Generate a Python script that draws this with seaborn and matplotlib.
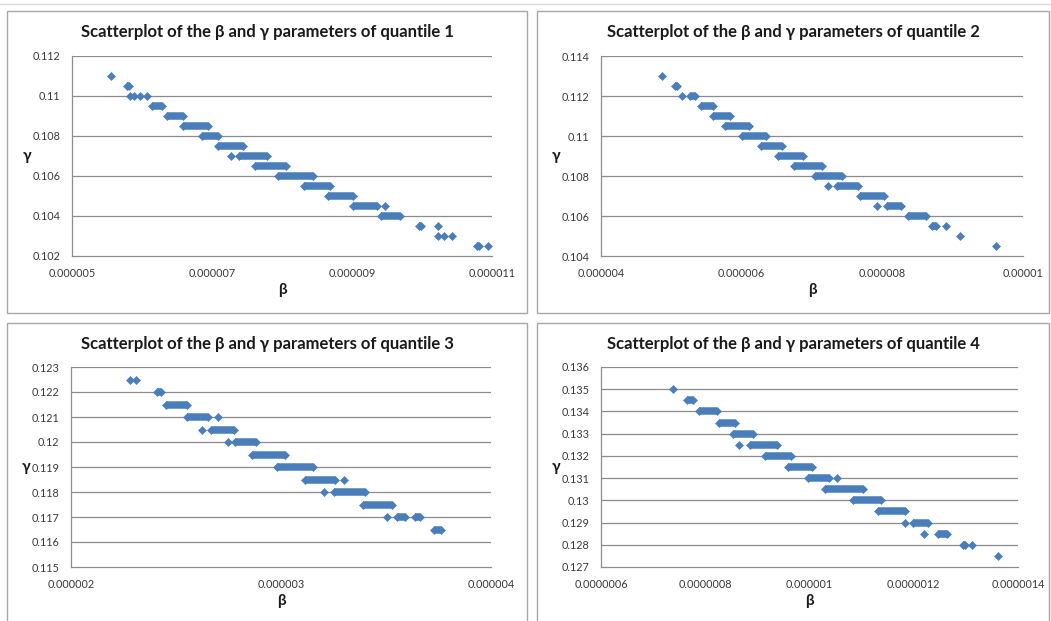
import matplotlib
matplotlib.use("Agg")
import matplotlib.pyplot as plt
import seaborn as sns
import pandas as pd
from matplotlib.patches import Rectangle
from matplotlib.lines import Line2D

sns.set_theme(style="white")
plt.rcParams['font.family'] = ['Lato', 'DejaVu Sans']

W, H = 1051, 621
BLUE = "#4A7EBB"
GRID = "#8c8c8c"
TEXT = "#3a3a3a"

# Beta values are given in units of 1e-6.
# Dense runs of points are stored as bands (gamma, first beta, last beta);
# single points are stored separately.

# ---- quantile 1 ----
q1_band_gamma = [0.1105, 0.1095, 0.109, 0.1085, 0.108, 0.1075, 0.107, 0.1065,
                 0.106, 0.1055, 0.105, 0.1045, 0.104, 0.1035, 0.1025]
q1_band_lo = [5.78, 6.14, 6.35, 6.59, 6.85, 7.08, 7.38, 7.61,
              7.94, 8.31, 8.65, 9.01, 9.42, 9.96, 10.78]
q1_band_hi = [5.81, 6.29, 6.58, 6.94, 7.09, 7.44, 7.79, 8.05,
              8.44, 8.69, 9.01, 9.35, 9.69, 9.99, 10.82]
q1_pt_gamma = [0.111, 0.110, 0.110, 0.110, 0.110, 0.107, 0.1045, 0.1035,
               0.103, 0.103, 0.103, 0.1025]
q1_pt_beta = [5.56, 5.83, 5.88, 5.97, 6.07, 7.27, 9.47, 10.23,
              10.23, 10.31, 10.43, 10.94]

# ---- quantile 2 ----
q2_band_gamma = [0.1125, 0.112, 0.1115, 0.111, 0.1105, 0.110, 0.1095, 0.109,
                 0.1085, 0.108, 0.1075, 0.107, 0.1065, 0.106, 0.1055]
q2_band_lo = [5.05, 5.26, 5.42, 5.59, 5.77, 6.01, 6.28, 6.51,
              6.74, 7.04, 7.35, 7.68, 8.06, 8.36, 8.71]
q2_band_hi = [5.08, 5.34, 5.59, 5.83, 6.11, 6.34, 6.57, 6.87,
              7.14, 7.42, 7.65, 8.02, 8.26, 8.62, 8.77]
q2_pt_gamma = [0.113, 0.112, 0.1075, 0.1065, 0.1055, 0.105, 0.1045]
q2_pt_beta = [4.87, 5.15, 7.23, 7.93, 8.91, 9.10, 9.61]

# ---- quantile 3 ----
q3_band_gamma = [0.122, 0.1215, 0.121, 0.1205, 0.120, 0.1195, 0.119, 0.1185,
                 0.118, 0.1175, 0.117, 0.117, 0.1165]
q3_band_lo = [2.41, 2.45, 2.55, 2.665, 2.78, 2.86, 2.98, 3.115,
              3.25, 3.39, 3.55, 3.64, 3.73]
q3_band_hi = [2.43, 2.55, 2.65, 2.775, 2.88, 3.02, 3.15, 3.255,
              3.40, 3.53, 3.59, 3.66, 3.76]
q3_pt_gamma = [0.1225, 0.1225, 0.121, 0.1205, 0.120, 0.1185, 0.118, 0.117]
q3_pt_beta = [2.28, 2.31, 2.70, 2.624, 2.746, 3.30, 3.205, 3.505]

# ---- quantile 4 ----
q4_band_gamma = [0.1345, 0.134, 0.1335, 0.133, 0.1325, 0.132, 0.1315, 0.131,
                 0.1305, 0.130, 0.1295, 0.129, 0.1285, 0.128]
q4_band_lo = [0.765, 0.788, 0.827, 0.853, 0.886, 0.915, 0.958, 0.998,
              1.030, 1.084, 1.132, 1.198, 1.246, 1.295]
q4_band_hi = [0.776, 0.823, 0.857, 0.892, 0.937, 0.965, 1.005, 1.038,
              1.103, 1.137, 1.184, 1.227, 1.263, 1.299]
q4_pt_gamma = [0.135, 0.1325, 0.131, 0.129, 0.1285, 0.128, 0.1275]
q4_pt_beta = [0.738, 0.864, 1.053, 1.183, 1.219, 1.312, 1.362]

# ---- axis ticks (beta ticks in units of 1e-6) ----
q1_xticks = [5, 7, 9, 11]
q1_xlabels = ["0.000005", "0.000007", "0.000009", "0.000011"]
q1_yticks = [0.102, 0.104, 0.106, 0.108, 0.110, 0.112]
q1_ylabels = ["0.102", "0.104", "0.106", "0.108", "0.11", "0.112"]

q2_xticks = [4, 6, 8, 10]
q2_xlabels = ["0.000004", "0.000006", "0.000008", "0.00001"]
q2_yticks = [0.104, 0.106, 0.108, 0.110, 0.112, 0.114]
q2_ylabels = ["0.104", "0.106", "0.108", "0.11", "0.112", "0.114"]

q3_xticks = [2, 3, 4]
q3_xlabels = ["0.000002", "0.000003", "0.000004"]
q3_yticks = [0.115, 0.116, 0.117, 0.118, 0.119, 0.120, 0.121, 0.122, 0.123]
q3_ylabels = ["0.115", "0.116", "0.117", "0.118", "0.119", "0.12", "0.121", "0.122", "0.123"]

q4_xticks = [0.6, 0.8, 1.0, 1.2, 1.4]
q4_xlabels = ["0.0000006", "0.0000008", "0.000001", "0.0000012", "0.0000014"]
q4_yticks = [0.127, 0.128, 0.129, 0.130, 0.131, 0.132, 0.133, 0.134, 0.135, 0.136]
q4_ylabels = ["0.127", "0.128", "0.129", "0.13", "0.131", "0.132", "0.133", "0.134", "0.135", "0.136"]

titles = ["Scatterplot of the β and γ parameters of quantile 1",
          "Scatterplot of the β and γ parameters of quantile 2",
          "Scatterplot of the β and γ parameters of quantile 3",
          "Scatterplot of the β and γ parameters of quantile 4"]

panels = [
    dict(bg=q1_band_gamma, blo=q1_band_lo, bhi=q1_band_hi, pg=q1_pt_gamma, pb=q1_pt_beta,
         xt=q1_xticks, xl=q1_xlabels, yt=q1_yticks, yl=q1_ylabels,
         box=(7, 11, 527, 313), area=(72, 56, 492, 256)),
    dict(bg=q2_band_gamma, blo=q2_band_lo, bhi=q2_band_hi, pg=q2_pt_gamma, pb=q2_pt_beta,
         xt=q2_xticks, xl=q2_xlabels, yt=q2_yticks, yl=q2_ylabels,
         box=(537, 11, 1049, 313), area=(601, 56, 1023, 256)),
    dict(bg=q3_band_gamma, blo=q3_band_lo, bhi=q3_band_hi, pg=q3_pt_gamma, pb=q3_pt_beta,
         xt=q3_xticks, xl=q3_xlabels, yt=q3_yticks, yl=q3_ylabels,
         box=(7, 323, 527, 625), area=(71, 367, 491, 567)),
    dict(bg=q4_band_gamma, blo=q4_band_lo, bhi=q4_band_hi, pg=q4_pt_gamma, pb=q4_pt_beta,
         xt=q4_xticks, xl=q4_xlabels, yt=q4_yticks, yl=q4_ylabels,
         box=(537, 323, 1049, 625), area=(601, 367, 1018, 567)),
]

fig = plt.figure(figsize=(W / 100, H / 100), dpi=100)
fig.patch.set_facecolor("white")


def fx(px):
    return px / W


def fy(py):
    return 1 - py / H


# faint outer frame line along the top
fig.add_artist(Line2D([0, 1], [fy(4), fy(4)], transform=fig.transFigure,
                      color="#d9d9d9", lw=1))

for title, p in zip(titles, panels):
    bl, bt, br, bb = p["box"]
    fig.add_artist(Rectangle((fx(bl), fy(bb)), fx(br) - fx(bl), fy(bt) - fy(bb),
                             transform=fig.transFigure, fill=False,
                             edgecolor="#a6a6a6", lw=1))

    l, t, r, b = p["area"]
    ax = fig.add_axes([fx(l), fy(b), (r - l) / W, (b - t) / H])
    ax.set_facecolor("white")

    # dense runs: thick horizontal strokes capped with diamonds at each end
    for g, lo, hi in zip(p["bg"], p["blo"], p["bhi"]):
        ax.plot([lo, hi], [g, g], color=BLUE, lw=5.4, solid_capstyle="butt", zorder=3)

    pts = pd.DataFrame({
        "beta": list(p["pb"]) + list(p["blo"]) + list(p["bhi"]),
        "gamma": list(p["pg"]) + list(p["bg"]) + list(p["bg"]),
    })
    sns.scatterplot(data=pts, x="beta", y="gamma", marker="D", s=17, color=BLUE,
                    edgecolor=BLUE, linewidth=0.4, ax=ax, zorder=4)

    ax.set_xlim(p["xt"][0], p["xt"][-1])
    ax.set_ylim(p["yt"][0], p["yt"][-1])
    ax.set_xticks(p["xt"])
    ax.set_xticklabels(p["xl"])
    ax.set_yticks(p["yt"])
    ax.set_yticklabels(p["yl"])
    ax.set_xlabel("")
    ax.set_ylabel("")

    for yv in p["yt"][1:]:
        ax.axhline(yv, color=GRID, lw=0.9, zorder=1)

    for side in ("top", "right"):
        ax.spines[side].set_visible(False)
    for side in ("left", "bottom"):
        ax.spines[side].set_visible(True)
        ax.spines[side].set_color(GRID)
        ax.spines[side].set_linewidth(0.9)

    ax.tick_params(axis="both", which="major", direction="out", length=3.5,
                   width=0.8, color=GRID, labelsize=7.8, labelcolor=TEXT, pad=5)
    ax.grid(False)

    fig.text(fx((bl + br) / 2), fy(bt + 21), title, ha="center", va="center",
             fontsize=12, fontweight="bold", color="#1a1a1a")
    fig.text(fx(l - 45), fy((t + b) / 2), "γ", ha="center", va="center",
             fontsize=11, fontweight="bold", color="#1a1a1a")
    fig.text(fx((l + r) / 2), fy(b + 34), "β", ha="center", va="center",
             fontsize=11, fontweight="bold", color="#1a1a1a")

fig.savefig("out.png", dpi=100, facecolor="white")
